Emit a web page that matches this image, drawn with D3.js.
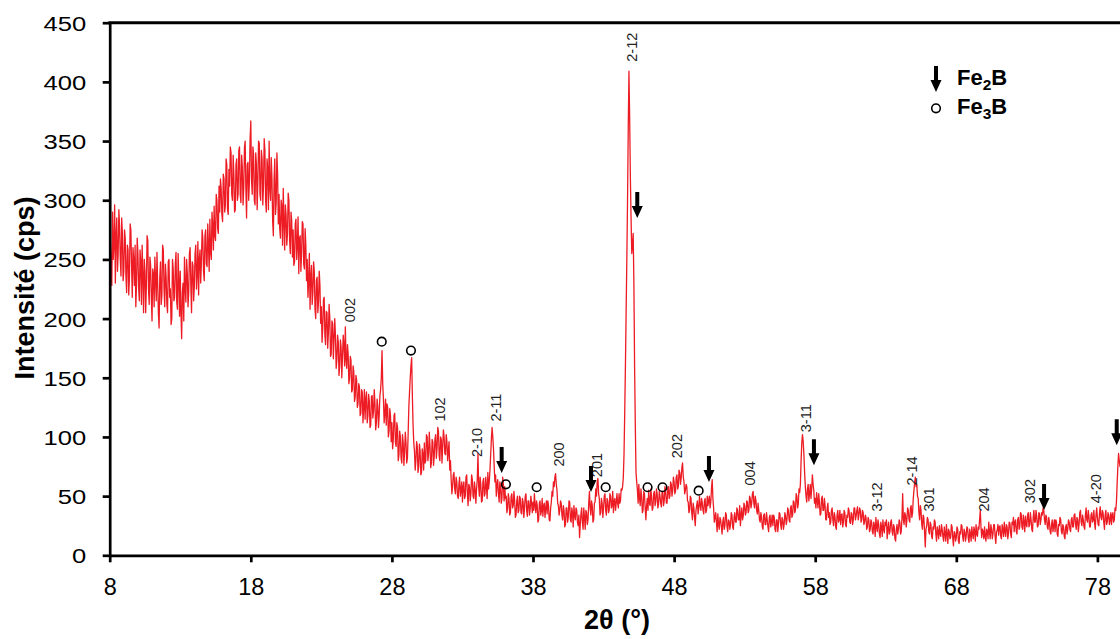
<!DOCTYPE html>
<html><head><meta charset="utf-8">
<script src="https://cdn.jsdelivr.net/npm/d3@7"></script>
<style>
html,body{margin:0;padding:0;background:#fff;}
svg{display:block;font-family:"Liberation Sans",Arial,sans-serif;}
</style></head>
<body><svg id="chart" width="1120" height="639"></svg>
<script>
// ---- data: intensity (cps) on a 2θ grid starting at 8.00°, step 0.05° ----
const angleStart = 8.0;
const angleStep = 0.05;
const intensity08to20 = [
298,262,245,228,290,250,262,296,230,270,285,240,255,292,278,250,236,285,272,232,
240,275,268,236,222,262,258,220,235,280,275,245,218,260,250,228,262,210,228,268,
255,226,215,258,248,212,262,236,205,250,240,205,228,270,266,225,212,252,245,218,
198,242,238,210,252,232,215,256,230,205,192,235,248,212,220,262,258,225,210,246,
235,212,205,248,250,218,225,195,200,250,242,215,218,246,256,214,208,255,232,202,
240,205,183,222,230,198,252,226,214,250,238,210,222,255,260,228,205,248,245,215,
228,255,262,225,238,265,220,250,258,230,248,275,268,240,232,270,275,246,244,280,
262,240,284,256,250,290,278,258,295,270,266,305,300,276,272,312,290,318,310,288,
282,322,318,290,296,335,330,292,288,326,312,345,340,305,300,338,322,290,292,330,
335,300,305,342,345,305,298,338,328,296,310,344,350,310,285,330,332,300,315,352,
367,318,305,345,338,300,296,340,330,292,315,350,348,305,300,342,335,296,312,352,
342,300,290,335,326,292,350,310,300,336,318,282,270,318,335,288,298,340,322,280];
const intensity20to32 = [
305,276,268,300,295,262,310,282,258,296,288,262,272,306,300,266,255,290,282,252,
275,245,248,280,284,250,262,286,238,268,270,240,255,282,280,246,242,276,262,232,
250,218,232,255,208,236,245,212,222,248,240,208,200,232,235,205,215,240,228,196,
210,180,192,216,218,186,178,206,205,175,188,212,200,168,170,198,196,166,182,200,
185,158,165,186,180,152,160,182,176,150,168,186,178,160,193,165,158,178,170,145,
150,168,165,138,140,160,155,130,134,152,148,125,128,145,142,118,120,140,138,112,
125,140,115,132,138,112,118,136,130,108,110,134,135,116,122,140,128,106,112,132,
126,108,118,135,140,150,173,145,132,112,120,132,110,128,125,100,105,124,118,96,
112,90,98,118,120,95,92,112,108,80,85,105,100,82,78,102,95,76,88,104,
95,78,82,102,125,138,150,160,167,135,110,95,88,72,80,96,92,70,75,94,
88,68,70,90,85,72,95,78,80,102,100,80,86,104,92,74,78,98,96,76,
84,98,102,82,90,108,105,84,80,100,98,78,92,106,100,86,85,102,96,80];
const intensity32to44 = [
88,96,72,80,64,52,58,68,70,56,52,66,62,50,48,60,66,50,55,62,
45,58,62,48,50,66,68,52,42,60,58,46,52,68,64,50,48,62,56,44,
56,64,86,58,50,66,60,45,46,62,65,50,52,66,58,48,70,56,62,72,
85,98,108,100,90,75,62,68,50,60,64,52,45,62,58,44,48,66,60,46,
58,48,50,36,40,52,48,34,36,50,52,40,42,54,46,32,34,46,50,36,
38,50,48,36,35,48,45,32,40,50,52,38,33,46,46,34,39,50,44,36,
45,38,52,42,36,46,42,28,30,44,46,34,38,48,33,42,44,32,40,46,
35,46,42,30,29,40,45,54,50,62,58,66,69,60,55,44,42,34,38,46,
44,34,30,42,38,24,26,40,40,28,32,46,45,30,28,40,36,24,42,34,
30,40,38,28,25,34,15,26,35,40,28,22,40,32,22,38,36,26,30,44,
54,40,34,46,42,28,30,44,45,56,50,62,65,52,48,34,36,48,44,32,
40,50,52,38,34,48,46,36,38,52,50,40,42,54,36,46,48,38,44,52];
const intensity44to56 = [
44,40,52,44,46,56,55,58,66,85,120,160,205,250,300,360,409,370,320,285,
255,262,272,230,160,110,70,62,55,44,60,48,42,56,50,36,38,54,52,40,
30,42,48,38,55,44,42,56,50,38,40,52,54,42,45,56,52,40,43,54,
50,44,41,54,53,42,46,58,55,44,44,56,58,48,50,62,60,50,55,66,
62,52,54,66,68,56,58,72,70,60,65,74,78,66,62,52,55,60,58,46,
45,36,38,50,48,36,30,44,40,32,25,38,42,46,35,40,50,42,38,48,
44,38,35,46,48,36,38,50,42,46,50,40,45,56,64,48,40,28,32,36,
28,20,35,26,22,32,30,24,18,28,32,22,25,36,34,24,20,30,29,22,
26,36,34,24,22,32,36,28,28,40,38,30,30,42,25,34,40,30,33,44,
42,34,36,46,45,36,38,50,48,40,44,52,54,44,40,50,46,38,35,44,
38,30,28,36,32,24,22,34,35,26,26,36,30,24,20,32,34,24,28,34,
25,34,32,22,20,30,30,20,27,36,35,26,22,32,30,22,26,36,33,26];
const intensity56to68 = [
30,40,38,30,28,40,42,32,34,46,45,36,38,52,50,40,43,56,53,60,
80,95,102,96,85,70,58,50,45,56,60,46,52,60,48,56,68,60,55,44,
48,40,53,46,40,52,45,34,35,48,50,38,38,48,42,30,30,40,44,32,
36,26,28,38,40,30,25,36,33,24,22,34,38,28,30,38,26,34,35,24,
28,38,36,26,24,34,32,40,38,28,27,36,35,26,30,40,40,30,33,38,
41,30,34,40,38,28,30,38,36,26,28,34,32,22,24,32,30,20,22,30,
28,20,18,28,25,16,32,24,20,30,26,18,15,28,24,16,30,22,19,28,
25,30,14,22,28,18,20,28,30,20,17,26,24,14,12,22,26,18,22,30,
28,18,20,32,52,30,26,36,34,24,30,40,38,30,28,40,42,32,36,48,
55,62,66,58,60,50,48,36,30,42,38,26,22,34,32,20,7,22,25,32,
30,20,18,28,26,16,14,24,22,30,28,18,12,24,20,14,25,18,16,26,
22,16,12,24,18,12,26,18,10,22,20,14,15,26,24,14,8,20,19,12];
const intensity68to80 = [
15,24,22,12,10,20,18,26,25,16,12,22,20,12,16,24,23,14,11,22,
18,12,24,18,14,24,20,12,26,18,16,24,22,30,38,24,15,22,20,14,
24,16,12,22,20,14,28,20,14,26,22,14,18,26,26,16,10,20,21,26,
17,24,25,16,14,26,22,16,28,20,16,26,24,14,19,28,27,18,15,28,
26,32,20,28,30,20,18,30,32,22,24,36,35,24,22,34,28,20,33,26,
24,34,36,24,26,36,30,22,20,32,38,28,28,38,33,24,25,36,35,26,
30,36,34,40,38,30,26,34,32,24,22,32,28,20,18,26,30,20,25,30,
20,30,28,18,16,26,25,32,30,20,18,26,24,16,14,24,26,18,22,30,
28,22,20,30,32,24,24,34,35,26,22,32,30,20,26,36,38,28,25,34,
30,24,22,34,40,30,28,38,33,24,24,34,36,28,30,38,27,22,34,40,
32,26,25,36,41,32,30,38,36,28,22,34,38,26,28,36,34,26,30,36,
26,34,36,28,30,40,38,45,61,75,86,80,75,78,80,76,78,82,82,80,
80];

const xTicks = [8,18,28,38,48,58,68,78];
const yTicks = [0,50,100,150,200,250,300,350,400,450];

// hkl labels: text, 2θ, intensity at label base
const hklText   = ["002","102","2-10","2-11","200","201","2-12","202","004","3-11","3-12","2-14","301","204","302","4-20"];
const hklAngle  = [25.0,31.4,34.0,35.4,39.85,42.55,45.0,48.2,53.4,57.35,62.4,64.85,66.05,69.95,73.2,77.9];
const hklLevel  = [197,113,83,113,75,66,417,82,59,104,37,59,37,37,44,44];
// Fe2B arrows: 2θ and intensity at arrow tip
const fe2bAngle = [35.78,42.11,45.39,50.47,57.91,74.22,79.37];
const fe2bLevel = [69.5,53.5,285,62,76,38.3,93];
// Fe3B circles: 2θ and intensity at circle centre
const fe3bAngle = [27.28,29.35,36.08,38.26,43.15,46.12,47.18,49.74];
const fe3bLevel = [180.5,173,60,57.5,57.5,57.5,57.5,54.6];

const legendNames = [["Fe","2","B"],["Fe","3","B"]];

// ---- build ----
const intensity = [].concat(intensity08to20,intensity20to32,intensity32to44,intensity44to56,intensity56to68,intensity68to80);
const data = intensity.map((v,i)=>({a: angleStart + i*angleStep, v}));

const svg = d3.select("#chart");
const x = d3.scaleLinear().domain([8,80]).range([109.7, 109.7 + 72*14.11]);
const y = d3.scaleLinear().domain([0,450]).range([555.3, 22.7]);

svg.append("clipPath").attr("id","clip").append("rect")
  .attr("x",x(8)).attr("y",y(450)-2).attr("width",1120-x(8)).attr("height",y(0)-y(450)+2);

svg.append("path").datum(data)
  .attr("clip-path","url(#clip)")
  .attr("fill","none").attr("stroke","#ed1c24").attr("stroke-width",1.3)
  .attr("stroke-linejoin","round")
  .attr("d", d3.line().x(d=>x(d.a)).y(d=>y(d.v)));

// axes
const axW = 2.7;
const yAxis = svg.append("g").attr("transform",`translate(${x(8)},0)`)
  .call(d3.axisLeft(y).tickValues(yTicks).tickSize(7).tickSizeOuter(0).tickFormat(d3.format("d")));
yAxis.select(".domain").attr("stroke","#000").attr("stroke-width",axW);
yAxis.selectAll(".tick line").attr("stroke","#000").attr("stroke-width",axW);
yAxis.selectAll(".tick text").attr("font-size",21).attr("fill","#000")
  .attr("font-family","Liberation Sans, Arial, sans-serif")
  .attr("x",0).attr("dy","0.36em")
  .attr("transform","translate(-23.5,0) scale(1.22,1)");

const xAxis = svg.append("g").attr("transform",`translate(0,${y(0)})`)
  .call(d3.axisBottom(x).tickValues(xTicks).tickSize(7).tickSizeOuter(0).tickFormat(d3.format("d")));
xAxis.select(".domain").attr("stroke","#000").attr("stroke-width",axW);
xAxis.selectAll(".tick line").attr("stroke","#000").attr("stroke-width",axW);
xAxis.selectAll(".tick text").attr("font-size",23.5).attr("fill","#000")
  .attr("font-family","Liberation Sans, Arial, sans-serif")
  .attr("y",0).attr("dy",0).attr("transform","translate(0,39.5)");

// top frame line
svg.append("line").attr("x1",x(8)-1.3).attr("x2",1120).attr("y1",y(450)).attr("y2",y(450))
  .attr("stroke","#000").attr("stroke-width",3);

// axis titles
svg.append("text").attr("transform","translate(34,288) rotate(-90)")
  .attr("text-anchor","middle").attr("font-size",27).attr("font-weight","bold")
  .text("Intensité (cps)");
svg.append("text").attr("x",617).attr("y",629)
  .attr("text-anchor","middle").attr("font-size",27).attr("font-weight","bold")
  .text("2θ (°)");

// hkl labels
svg.append("g").selectAll("text").data(hklText).join("text")
  .attr("transform",(d,i)=>`translate(${x(hklAngle[i])+5},${y(hklLevel[i])}) rotate(-90)`)
  .attr("font-size",14.5).attr("fill","#222").text(d=>d);

// arrow shape
function arrowPath(cx, tip){
  const L=26, hh=12, hw=5.5, sw=2;
  const top=tip-L, neck=tip-hh;
  return `M${cx-sw},${top}L${cx+sw},${top}L${cx+sw},${neck}L${cx+hw},${neck}L${cx},${tip}L${cx-hw},${neck}L${cx-sw},${neck}Z`;
}
svg.append("g").selectAll("path").data(fe2bAngle).join("path")
  .attr("d",(d,i)=>arrowPath(x(d), y(fe2bLevel[i]))).attr("fill","#000");

svg.append("g").selectAll("circle").data(fe3bAngle).join("circle")
  .attr("cx",d=>x(d)).attr("cy",(d,i)=>y(fe3bLevel[i])).attr("r",4.3)
  .attr("fill","none").attr("stroke","#000").attr("stroke-width",1.6);

// legend
svg.append("path").attr("d",arrowPath(936,92)).attr("fill","#000");
svg.append("circle").attr("cx",936).attr("cy",108.3).attr("r",4.3)
  .attr("fill","none").attr("stroke","#000").attr("stroke-width",1.6);
legendNames.forEach((parts,i)=>{
  const t = svg.append("text").attr("x",957).attr("y",85+i*29)
    .attr("font-size",22).attr("font-weight","bold").attr("fill","#000");
  t.append("tspan").text(parts[0]);
  t.append("tspan").attr("font-size",15.5).attr("dy",5).text(parts[1]);
  t.append("tspan").attr("dy",-5).text(parts[2]);
});
</script></body></html>
